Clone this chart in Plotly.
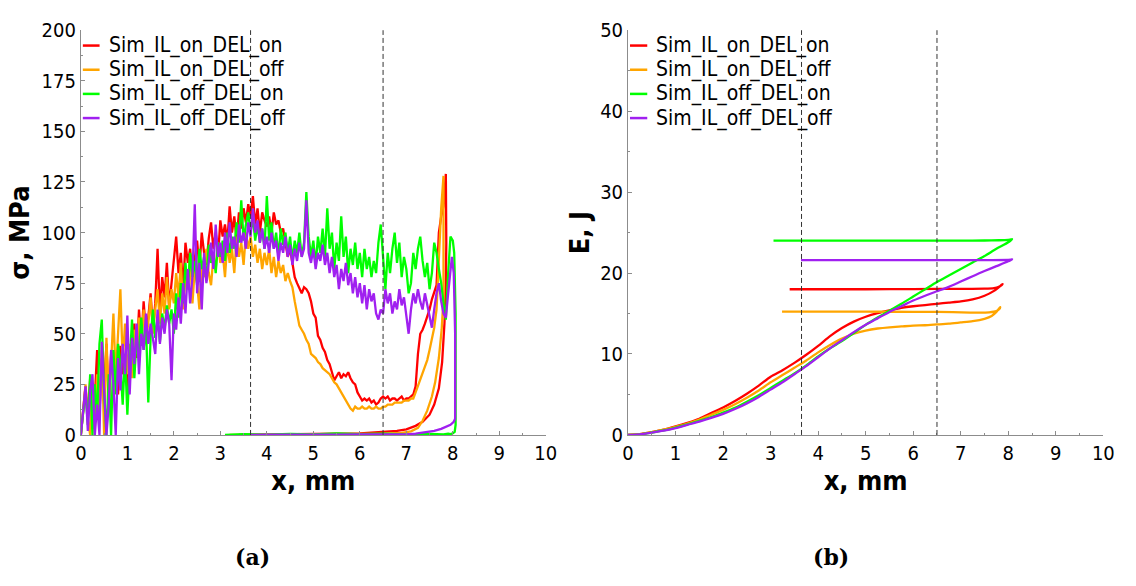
import numpy as np
import plotly.graph_objects as go

# ---------------------------------------------------------------- data
series_names = ["Sim_IL_on_DEL_on", "Sim_IL_on_DEL_off", "Sim_IL_off_DEL_on", "Sim_IL_off_DEL_off"]
series_colors = ["#ff0000", "#ffa500", "#00ff00", "#a020f0"]

# reference displacements marked with dashed lines, mm
marker_x = [3.65, 6.5]

# loading branch of the stress curves, sampled every 0.05 mm from 0 to 7.5 mm
x_grid = np.round(np.arange(0, 7.501, 0.05), 2)

red_load = [0, 12, 24, 8, 28, 3, 18, 42, 10, 38, 22, 45, 15, 40, 28, 35, 20, 44, 30, 38, 22,
            44, 30, 55, 38, 62, 45, 66, 50, 58, 70, 52, 65, 92, 60, 78, 68, 85, 63, 75, 88,
            98, 80, 90, 72, 95, 85, 92, 78, 88, 96, 82, 100, 90, 84, 97, 105, 92, 100, 88, 106,
            98, 104, 95, 113, 100, 108, 96, 110, 102, 112, 105, 114, 108, 118, 104, 112, 100, 110, 106, 103,
            108, 100, 110, 104, 106, 100, 102, 95, 88, 92, 84, 78, 75, 72, 70, 73, 72, 70, 66, 60,
            58, 49, 47, 43, 41, 37, 35, 31, 27, 29, 31, 28, 30, 29, 31, 28, 26, 25, 21, 19,
            17, 18, 17, 18, 16, 17, 15, 16, 18, 19, 18, 19, 17, 18, 18, 17, 18, 19, 17, 18,
            18, 19, 20, 24, 40, 50, 52, 55, 58, 62]
orange_load = [0, 14, 25, 8, 0, 22, 4, 30, 12, 42, 0, 48, 18, 35, 60, 28, 50, 72, 36, 55, 30,
               45, 28, 52, 40, 58, 45, 62, 48, 55, 68, 50, 62, 72, 55, 70, 60, 78, 62, 72, 65,
               80, 68, 85, 62, 78, 72, 88, 65, 82, 75, 62, 85, 78, 92, 80, 74, 88, 82, 95, 85,
               90, 78, 95, 85, 92, 80, 98, 88, 95, 84, 100, 92, 98, 88, 94, 85, 92, 82, 90, 84,
               92, 80, 88, 78, 86, 80, 84, 76, 80, 76, 73, 66, 59, 54, 52, 50, 47, 45, 40, 39,
               38, 36, 35, 33, 32, 31, 30, 28, 26, 25, 23, 21, 19, 17, 15, 13, 12, 14, 13, 13,
               14, 13, 13, 14, 13, 13, 14, 13, 13, 14, 14, 15, 15, 15, 16, 16, 16, 16, 17, 17,
               17, 18, 18, 21, 24, 27, 30, 34, 37, 42]
green_load = [0, 10, 22, 5, 30, 0, 25, 8, 45, 57, 20, 0, 30, 0, 42, 20, 45, 35, 15, 40, 10,
              35, 57, 28, 48, 40, 58, 42, 55, 16, 48, 62, 48, 58, 46, 60, 52, 64, 55, 62, 50,
              70, 58, 75, 65, 85, 72, 90, 78, 86, 74, 92, 82, 88, 76, 94, 85, 90, 80, 95, 88,
              96, 86, 100, 90, 98, 92, 105, 95, 116, 96, 104, 110, 100, 108, 96, 104, 95, 102, 92, 118,
              96, 105, 92, 100, 88, 102, 94, 100, 90, 98, 86, 96, 90, 100, 88, 95, 120, 98, 88, 96,
              84, 98, 90, 102, 88, 112, 92, 100, 82, 95, 86, 108, 88, 98, 80, 92, 84, 95, 82, 90,
              78, 92, 82, 88, 78, 86, 80, 95, 104, 85, 72, 90, 80, 92, 100, 85, 95, 78, 88, 82,
              70, 75, 90, 82, 92, 98, 86, 78, 85, 72]
purple_load = [0, 12, 24, 2, 22, 30, 0, 15, 0, 46, 20, 0, 15, 42, 25, 0, 38, 22, 45, 30, 59,
               20, 48, 35, 55, 30, 50, 42, 60, 45, 55, 48, 40, 62, 45, 58, 50, 62, 55, 27, 60,
               52, 68, 55, 75, 60, 82, 65, 78, 114, 70, 85, 62, 90, 75, 85, 95, 82, 104, 88, 95,
               85, 100, 90, 105, 92, 98, 88, 104, 95, 100, 92, 105, 98, 112, 100, 106, 95, 102, 92, 98,
               90, 100, 92, 96, 86, 95, 90, 98, 88, 94, 84, 92, 86, 95, 88, 92, 116, 90, 85, 92,
               82, 90, 86, 94, 84, 90, 80, 88, 78, 84, 72, 82, 76, 85, 74, 80, 70, 78, 68, 75,
               65, 74, 62, 72, 66, 70, 60, 57, 62, 60, 72, 65, 70, 60, 66, 62, 72, 64, 68, 60,
               50, 62, 70, 65, 72, 66, 62, 70, 64, 58]

# end of loading up to the maximum displacement
red_tail_x = [7.55, 7.60, 7.65, 7.70, 7.75, 7.80, 7.85]
red_tail_s = [67, 70, 74, 100, 108, 113, 129]
orange_tail_x = [7.55, 7.60, 7.65, 7.70, 7.75, 7.80]
orange_tail_s = [48, 53, 62, 90, 112, 128]
green_tail_x = [7.55, 7.60, 7.65, 7.70, 7.75, 7.80, 7.85, 7.90, 7.95, 8.00, 8.03]
green_tail_s = [80, 95, 90, 82, 75, 65, 57, 80, 98, 96, 90]
purple_tail_x = [7.55, 7.60, 7.65, 7.70, 7.75, 7.80, 7.85, 7.90, 7.95, 7.98, 8.02]
purple_tail_s = [53, 62, 70, 75, 66, 60, 58, 70, 84, 88, 80]

# unloading branch (displacement decreasing)
red_back_x = [7.86, 7.85, 7.82, 7.77, 7.70, 7.60, 7.50, 7.35, 7.20, 7.00, 6.80, 6.50, 6.00, 5.50, 5.00, 4.50, 4.00, 3.40]
red_back_s = [95, 75, 55, 36, 23, 15, 10, 6.5, 4.5, 2.8, 2.0, 1.5, 0.8, 0.6, 0.4, 0.3, 0.2, 0.0]
orange_back_x = [7.81, 7.80, 7.76, 7.70, 7.62, 7.55, 7.45, 7.35, 7.25, 7.10, 6.90, 6.50, 6.00, 5.50, 5.00, 4.50, 4.00, 3.20]
orange_back_s = [90, 68, 52, 38, 26, 19, 12, 7, 3.5, 1.8, 1.0, 0.6, 0.5, 0.4, 0.3, 0.2, 0.1, 0.0]
green_back_x = [8.06, 8.06, 8.04, 8.00, 7.95, 7.90, 7.80, 7.50, 7.00, 6.50, 6.00, 5.50, 5.00, 4.50, 4.00, 3.50, 3.10]
green_back_s = [60, 5, 1.5, 0.8, 0.4, 0.6, 0.3, 0.5, 0.3, 0.6, 0.4, 0.7, 0.3, 0.5, 0.2, 0.4, 0.0]
purple_back_x = [8.05, 8.05, 8.02, 7.95, 7.85, 7.75, 7.60, 7.40, 7.20, 7.00, 6.50, 6.00, 5.50, 5.00, 4.50, 4.00, 3.65]
purple_back_s = [50, 8, 6.5, 5, 4, 3, 2, 1.2, 0.6, 0.3, 0.4, 0.3, 0.2, 0.3, 0.2, 0.1, 0.0]

# absorbed energy, loading branch
e_grid = [0, 0.25, 0.5, 0.75, 1.0, 1.25, 1.5, 1.75, 2.0, 2.25, 2.5, 2.75, 3.0, 3.25, 3.5, 3.75,
          4.0, 4.25, 4.5, 4.75, 5.0, 5.25, 5.5, 5.75, 6.0, 6.25, 6.5, 6.75, 7.0, 7.25, 7.5]
red_energy = [0, 0.1, 0.35, 0.65, 1.05, 1.5, 2.0, 2.7, 3.4, 4.2, 5.1, 6.1, 7.2, 8.0, 8.9, 9.9,
              11.0, 12.2, 13.2, 14.0, 14.6, 15.05, 15.4, 15.7, 15.9, 16.05, 16.2, 16.35, 16.5, 16.75, 17.2]
orange_energy = [0, 0.1, 0.35, 0.65, 1.0, 1.4, 1.9, 2.5, 3.1, 3.8, 4.6, 5.5, 6.5, 7.4, 8.3, 9.2,
                 10.2, 11.1, 11.9, 12.5, 12.9, 13.15, 13.3, 13.4, 13.5, 13.55, 13.65, 13.75, 13.9, 14.05, 14.35]
green_energy = [0, 0.08, 0.3, 0.55, 0.9, 1.3, 1.75, 2.2, 2.75, 3.35, 4.1, 4.9, 5.8, 6.7, 7.6, 8.6,
                9.7, 10.7, 11.6, 12.6, 13.6, 14.5, 15.35, 16.2, 17.1, 18.0, 18.9, 19.7, 20.5, 21.3, 22.1]
purple_energy = [0, 0.07, 0.28, 0.52, 0.85, 1.25, 1.65, 2.1, 2.6, 3.2, 3.9, 4.7, 5.6, 6.5, 7.5, 8.5,
                 9.6, 10.7, 11.7, 12.7, 13.6, 14.4, 15.2, 15.9, 16.6, 17.2, 17.75, 18.3, 18.95, 19.6, 20.25]

red_e_tail_x = [7.7, 7.85, 7.88]
red_e_tail = [17.8, 18.5, 18.65]
orange_e_tail_x = [7.65, 7.75, 7.83]
orange_e_tail = [14.7, 15.2, 15.8]
green_e_tail_x = [7.75, 8.0, 8.08]
green_e_tail = [23.0, 23.8, 24.2]
purple_e_tail_x = [7.75, 8.0, 8.08]
purple_e_tail = [20.85, 21.45, 21.7]

# energy while the impactor moves back
red_e_back_x = [7.86, 7.8, 7.7, 7.5, 7.0, 6.0, 5.0, 4.0, 3.4]
red_e_back = [18.5, 18.3, 18.15, 18.08, 18.05, 18.02, 18.0, 18.0, 18.0]
orange_e_back_x = [7.82, 7.75, 7.6, 7.4, 7.2, 6.5, 5.5, 4.5, 3.24]
orange_e_back = [15.6, 15.3, 15.15, 15.1, 15.12, 15.2, 15.22, 15.24, 15.24]
green_e_back_x = [8.06, 8.0, 7.8, 7.5, 7.0, 6.0, 5.0, 4.0, 3.06]
green_e_back = [24.15, 24.1, 24.05, 24.02, 24.0, 24.0, 24.0, 24.0, 24.0]
purple_e_back_x = [8.06, 8.0, 7.5, 6.5, 5.5, 4.5, 3.64]
purple_e_back = [21.65, 21.62, 21.6, 21.6, 21.6, 21.6, 21.6]

# ---------------------------------------------------------------- figure
W, H = 1136, 586
FONT = "DejaVu Sans Condensed, DejaVu Sans, sans-serif"
AXIS_GREY = "#8c8c8c"

stress_sets = [
    (red_load, red_tail_x, red_tail_s, red_back_x, red_back_s),
    (orange_load, orange_tail_x, orange_tail_s, orange_back_x, orange_back_s),
    (green_load, green_tail_x, green_tail_s, green_back_x, green_back_s),
    (purple_load, purple_tail_x, purple_tail_s, purple_back_x, purple_back_s),
]
energy_sets = [
    (red_energy, red_e_tail_x, red_e_tail, red_e_back_x, red_e_back),
    (orange_energy, orange_e_tail_x, orange_e_tail, orange_e_back_x, orange_e_back),
    (green_energy, green_e_tail_x, green_e_tail, green_e_back_x, green_e_back),
    (purple_energy, purple_e_tail_x, purple_e_tail, purple_e_back_x, purple_e_back),
]

fig = go.Figure()
for name, color, (load, tx, ts, bx, bs) in zip(series_names, series_colors, stress_sets):
    fig.add_trace(go.Scatter(
        x=list(x_grid) + tx + bx, y=list(load) + ts + bs,
        mode="lines", name=name, line=dict(color=color, width=2.3),
        xaxis="x", yaxis="y", showlegend=False))
for name, color, (en, tx, ts, bx, bs) in zip(series_names, series_colors, energy_sets):
    fig.add_trace(go.Scatter(
        x=list(e_grid) + tx + bx, y=list(en) + ts + bs,
        mode="lines", name=name, line=dict(color=color, width=2.3, shape="spline", smoothing=0.6),
        xaxis="x2", yaxis="y2", showlegend=False))

y_dom = [1 - 441 / H, 1 - 19 / H]
left_dom = [76 / W, 548 / W]
right_dom = [631.5 / W, 1114 / W]

tick_font = dict(family=FONT, size=20, color="black")
title_font = dict(family=FONT, size=27, color="black", weight="bold")


def axis(dom, rng, dtick, minor_dtick, title, anchor, standoff):
    return dict(
        domain=dom, range=rng, dtick=dtick, tick0=0, anchor=anchor,
        showline=True, linecolor=AXIS_GREY, linewidth=1,
        ticks="inside", ticklen=4, tickwidth=1, tickcolor=AXIS_GREY,
        minor=dict(ticks="inside", ticklen=2, dtick=minor_dtick, tickcolor=AXIS_GREY, showgrid=False),
        showgrid=False, zeroline=False, tickfont=tick_font,
        title=dict(text=title, font=title_font, standoff=standoff),
    )


fig.update_layout(
    width=W, height=H,
    margin=dict(l=0, r=0, t=0, b=0),
    paper_bgcolor="white", plot_bgcolor="white",
    xaxis=axis(left_dom, [0, 10], 1, 0.5, "x, mm", "y", 7),
    yaxis=axis(y_dom, [0, 200], 25, 12.5, "σ, MPa", "x", 4),
    xaxis2=axis(right_dom, [0, 10], 1, 0.5, "x, mm", "y2", 7),
    yaxis2=axis(y_dom, [0, 50], 10, 5, "E, J", "x2", 2),
)

# dashed reference lines in both panels
for xv in marker_x:
    for xr, yr in (("x", "y domain"), ("x2", "y2 domain")):
        fig.add_shape(type="line", xref=xr, yref=yr, x0=xv, x1=xv, y0=0, y1=1,
                      line=dict(color="#333333", width=1, dash="5px,3px"), layer="above")

# legends drawn in the upper-left corner of each panel
legend_rows = [35 + 25.2 * i for i in range(len(series_names))]
for line_x0, line_x1, text_x in ((78, 95, 103), (633.5, 651, 657.5)):
    for name, color, row in zip(series_names, series_colors, legend_rows):
        fig.add_shape(type="line", xref="paper", yref="paper",
                      x0=line_x0 / W, x1=line_x1 / W, y0=1 - row / H, y1=1 - row / H,
                      line=dict(color=color, width=2.5))
        fig.add_annotation(text=name, xref="paper", yref="paper", x=text_x / W, y=1 - row / H,
                           xanchor="left", yanchor="middle", showarrow=False,
                           font=dict(family=FONT, size=21, color="black"))

# panel captions
for label, cx in (("(a)", 250), ("(b)", 838)):
    fig.add_annotation(text=f"<b>{label}</b>", xref="paper", yref="paper", x=cx / W, y=1 - 568 / H,
                       xanchor="center", yanchor="middle", showarrow=False,
                       font=dict(family="DejaVu Serif, serif", size=22, color="black"))

fig.write_html("out.html")
